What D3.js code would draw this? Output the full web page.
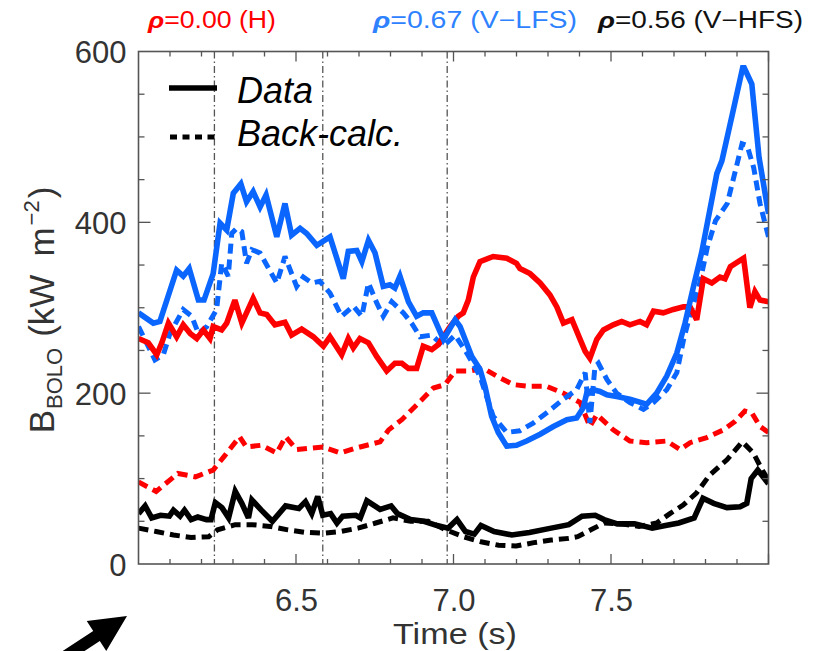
<!DOCTYPE html>
<html>
<head>
<meta charset="utf-8">
<script src="https://cdn.jsdelivr.net/npm/d3@7/dist/d3.min.js"></script>
<style>
  html, body { margin: 0; padding: 0; background: #fff; }
  svg { display: block; }
  text { font-family: "Liberation Sans", Arial, Helvetica, sans-serif; }
</style>
</head>
<body>
<svg id="chart" width="817" height="651"></svg>
<script>
// ---------------- DATA ----------------
const xTickValues = [6.5, 7.0, 7.5];
const xTickLabels = ["6.5", "7.0", "7.5"];
const yTickValues = [0, 200, 400, 600];
const yTickLabels = ["0", "200", "400", "600"];
const markerTimes = [6.241, 6.585, 6.980];

// rho = 0.67 (V-LFS) data
const lfsDataT = [6.00,6.047,6.068,6.121,6.142,6.161,6.19,6.208,6.237,6.259,6.28,6.301,6.325,6.343,6.364,6.386,6.405,6.439,6.465,6.486,6.513,6.534,6.566,6.608,6.65,6.666,6.693,6.709,6.73,6.751,6.777,6.798,6.814,6.83,6.857,6.883,6.904,6.931,6.968,7.005,7.021,7.058,7.084,7.10,7.121,7.142,7.169,7.20,7.232,7.275,7.317,7.36,7.391,7.412,7.423,7.444,7.465,7.487,7.518,7.56,7.613,7.645,7.677,7.709,7.735,7.762,7.788,7.836,7.852,7.888,7.918,7.923,7.947,7.97,8.0];
const lfsDataV = [294,282,284,344,337,346,309,309,340,399,391,434,445,424,436,418,432,383,422,385,393,387,373,383,334,366,367,354,379,364,325,327,323,337,307,290,294,294,263,286,278,243,228,208,173,154,138,139,144,152,161,169,171,183,200,204,202,198,196,193,187,200,220,247,282,325,365,457,472,531,581,581,562,476,410];

// rho = 0.67 (V-LFS) back-calculated
const lfsCalcT = [6.00,6.052,6.079,6.10,6.142,6.169,6.19,6.217,6.248,6.264,6.285,6.296,6.312,6.328,6.343,6.36,6.386,6.439,6.465,6.502,6.523,6.55,6.576,6.608,6.645,6.682,6.709,6.73,6.756,6.777,6.804,6.841,6.867,6.894,6.931,6.968,7.005,7.042,7.084,7.105,7.126,7.169,7.211,7.253,7.296,7.349,7.391,7.418,7.433,7.449,7.46,7.487,7.518,7.56,7.603,7.635,7.677,7.709,7.73,7.751,7.78,7.806,7.832,7.869,7.90,7.916,7.932,7.953,7.973,8.0];
const lfsCalcV = [278,239,245,270,298,290,270,278,298,352,337,387,393,389,352,368,364,329,360,325,336,329,331,317,290,302,290,329,306,290,307,294,282,266,268,255,268,247,220,196,173,154,156,165,177,193,204,224,165,231,235,216,200,189,181,189,204,224,262,292,326,371,402,422,468,492,490,464,422,383];

// rho = 0.00 (H) data
const hDataT = [6.00,6.031,6.058,6.074,6.095,6.121,6.142,6.164,6.185,6.206,6.227,6.237,6.264,6.28,6.306,6.328,6.364,6.386,6.407,6.433,6.465,6.486,6.518,6.555,6.587,6.608,6.645,6.666,6.682,6.703,6.73,6.756,6.788,6.814,6.836,6.857,6.883,6.904,6.931,6.952,6.989,7.015,7.031,7.047,7.063,7.084,7.126,7.169,7.20,7.211,7.243,7.275,7.306,7.328,7.349,7.376,7.402,7.418,7.433,7.455,7.476,7.507,7.534,7.56,7.592,7.613,7.635,7.666,7.698,7.73,7.751,7.772,7.793,7.82,7.846,7.862,7.879,7.921,7.941,7.957,7.973,8.0];
const hDataV = [264,259,245,259,282,266,280,270,264,274,264,278,274,282,309,282,311,294,292,280,283,268,275,266,255,266,245,264,253,264,259,243,226,235,235,229,229,255,251,257,278,290,294,309,336,354,360,358,352,346,340,329,315,301,282,286,263,249,241,263,274,280,284,280,284,280,296,294,298,301,301,286,334,329,336,334,348,358,300,319,309,307];

// rho = 0.00 (H) back-calculated
const hCalcT = [6.00,6.056,6.125,6.181,6.237,6.272,6.321,6.342,6.39,6.439,6.467,6.502,6.585,6.641,6.683,6.725,6.767,6.794,6.836,6.904,6.936,6.973,7.005,7.052,7.095,7.137,7.19,7.243,7.296,7.349,7.402,7.433,7.455,7.507,7.56,7.613,7.677,7.719,7.751,7.804,7.857,7.894,7.925,7.947,7.973,8.0];
const hCalcV = [96,85,106,102,110,126,149,137,139,130,149,134,137,130,135,139,143,157,169,194,206,210,226,226,229,220,210,208,208,200,189,161,175,157,144,142,144,134,142,148,157,167,179,177,161,154];

// rho = 0.56 (V-HFS) data
const hfsDataT = [6.00,6.021,6.042,6.07,6.098,6.111,6.132,6.146,6.167,6.188,6.216,6.23,6.244,6.265,6.286,6.307,6.328,6.349,6.36,6.39,6.425,6.467,6.509,6.53,6.55,6.569,6.585,6.61,6.63,6.648,6.69,6.704,6.725,6.767,6.802,6.822,6.864,6.906,6.948,6.983,7.011,7.038,7.066,7.087,7.129,7.185,7.241,7.31,7.366,7.408,7.45,7.478,7.52,7.575,7.631,7.673,7.715,7.764,7.792,7.826,7.868,7.91,7.931,7.945,7.966,8.0];
const hfsDataV = [59,68,54,57,56,63,56,63,52,55,52,52,72,66,54,85,71,54,75,63,50,68,65,73,59,79,57,59,48,56,57,54,74,64,68,59,52,50,45,42,52,38,35,45,38,34,37,42,46,56,57,52,47,47,42,45,48,54,77,71,66,67,71,100,110,94];

// rho = 0.56 (V-HFS) back-calculated
const hfsCalcT = [6.00,6.056,6.111,6.167,6.223,6.251,6.307,6.362,6.418,6.474,6.53,6.585,6.641,6.697,6.753,6.808,6.864,6.92,6.976,7.031,7.087,7.143,7.199,7.255,7.31,7.366,7.394,7.436,7.478,7.533,7.589,7.645,7.687,7.729,7.771,7.813,7.868,7.917,7.952,7.98,8.0];
const hfsCalcV = [42,38,34,31,32,40,46,46,44,40,37,36,38,42,48,54,50,50,40,32,26,22,21,25,28,30,32,40,48,47,44,48,59,69,83,104,122,143,130,110,98];

// ---------------- STYLE ----------------
const RED = "#ff0000", BLUE = "#0a66ff", BLACK = "#000000";
const plot = { left: 138.5, right: 768.5, top: 51.5, bottom: 564 };

const svg = d3.select("#chart");
const x = d3.scaleLinear().domain([6.0, 8.0]).range([plot.left, plot.right]);
const y = d3.scaleLinear().domain([0, 600]).range([plot.bottom, plot.top]);

const zip = (ts, vs) => ts.map((t, i) => [t, vs[i]]);
const series = [
  { data: zip(hCalcT, hCalcV), color: RED, dash: "10,6", width: 5 },
  { data: zip(hfsCalcT, hfsCalcV), color: BLACK, dash: "10,6", width: 5 },
  { data: zip(lfsCalcT, lfsCalcV), color: BLUE, dash: "10,6", width: 5 },
  { data: zip(hDataT, hDataV), color: RED, dash: null, width: 5.6 },
  { data: zip(hfsDataT, hfsDataV), color: BLACK, dash: null, width: 5.6 },
  { data: zip(lfsDataT, lfsDataV), color: BLUE, dash: null, width: 5.6 },
];

svg.append("defs").append("clipPath").attr("id", "clip")
  .append("rect").attr("x", plot.left).attr("y", plot.top)
  .attr("width", plot.right - plot.left).attr("height", plot.bottom - plot.top);

// vertical dash-dot markers
svg.append("g").selectAll("line").data(markerTimes).join("line")
  .attr("x1", d => x(d)).attr("x2", d => x(d))
  .attr("y1", plot.top).attr("y2", plot.bottom)
  .attr("stroke", "#555").attr("stroke-width", 1.3)
  .attr("stroke-dasharray", "7,3,1.5,3");

// lines
const line = d3.line().x(d => x(d[0])).y(d => y(d[1]));
svg.append("g").attr("clip-path", "url(#clip)")
  .selectAll("path").data(series).join("path")
  .attr("d", d => line(d.data))
  .attr("fill", "none")
  .attr("stroke", d => d.color)
  .attr("stroke-width", d => d.width)
  .attr("stroke-linejoin", "miter")
  .attr("stroke-miterlimit", 3)
  .attr("stroke-dasharray", d => d.dash);

// frame
const AX = "#555";
svg.append("rect").attr("x", plot.left).attr("y", plot.top)
  .attr("width", plot.right - plot.left).attr("height", plot.bottom - plot.top)
  .attr("fill", "none").attr("stroke", AX).attr("stroke-width", 1.6);

// ticks (inward), minor + major
const xMinor = d3.range(6.1, 8.0, 0.1).map(v => +v.toFixed(1));
const yMinor = d3.range(50, 600, 50);
const tg = svg.append("g").attr("stroke", AX).attr("stroke-width", 1.3);
xMinor.forEach(v => {
  const len = (Math.abs(v * 2 - Math.round(v * 2)) < 1e-6) ? 10 : 5;
  tg.append("line").attr("x1", x(v)).attr("x2", x(v)).attr("y1", plot.bottom).attr("y2", plot.bottom - len);
  tg.append("line").attr("x1", x(v)).attr("x2", x(v)).attr("y1", plot.top).attr("y2", plot.top + len);
});
yMinor.forEach(v => {
  const len = (v % 200 === 0) ? 12 : 6;
  tg.append("line").attr("x1", plot.left).attr("x2", plot.left + len).attr("y1", y(v)).attr("y2", y(v));
  tg.append("line").attr("x1", plot.right).attr("x2", plot.right - len).attr("y1", y(v)).attr("y2", y(v));
});

// axis labels via d3 axes
const xAxis = d3.axisBottom(x).tickValues(xTickValues)
  .tickFormat((d, i) => xTickLabels[i]).tickSize(0).tickPadding(0);
const gx = svg.append("g").attr("transform", `translate(0,${plot.bottom})`).call(xAxis);
gx.select(".domain").remove();
gx.selectAll("text").attr("font-size", 31).attr("fill", "#333")
  .attr("dy", null).attr("y", 47)
  .style("font-family", "'Liberation Sans', Arial, sans-serif");

const yAxis = d3.axisLeft(y).tickValues(yTickValues)
  .tickFormat((d, i) => yTickLabels[i]).tickSize(0).tickPadding(12);
const gy = svg.append("g").attr("transform", `translate(${plot.left},0)`).call(yAxis);
gy.select(".domain").remove();
gy.selectAll("text").attr("font-size", 31).attr("fill", "#333")
  .attr("dy", "0.36em")
  .style("font-family", "'Liberation Sans', Arial, sans-serif");

// x title
svg.append("text").attr("x", 455).attr("y", 644).attr("text-anchor", "middle")
  .attr("font-size", 29).attr("fill", "#333")
  .attr("textLength", 124).attr("lengthAdjust", "spacingAndGlyphs").text("Time (s)");

// y title
const yt = svg.append("text").attr("transform", "translate(54,310) rotate(-90)")
  .attr("text-anchor", "middle").attr("font-size", 35).attr("fill", "#333");
yt.append("tspan").text("B");
yt.append("tspan").attr("font-size", 22).attr("dy", 8).attr("dx", 1).text("BOLO");
yt.append("tspan").attr("dy", -8).attr("dx", 11).text("(kW");
yt.append("tspan").attr("dx", 18).text("m");
yt.append("tspan").attr("font-size", 22).attr("dy", -15).attr("dx", 2).text("\u22122");
yt.append("tspan").attr("dy", 15).attr("dx", 2).text(")");

// top labels
const topLabels = [
  { rho: "\u03c1", rest: "=0.00 (H)", color: RED, x: 148, w: 128 },
  { rho: "\u03c1", rest: "=0.67 (V\u2212LFS)", color: "#2f82ff", x: 373, w: 204 },
  { rho: "\u03c1", rest: "=0.56 (V\u2212HFS)", color: "#111", x: 598, w: 205 },
];
topLabels.forEach(l => {
  const t = svg.append("text").attr("x", l.x).attr("y", 28).attr("font-size", 23)
    .attr("fill", l.color);
  t.append("tspan").attr("font-weight", "bold").attr("font-style", "italic").text(l.rho);
  t.append("tspan").text(l.rest);
  t.attr("textLength", l.w).attr("lengthAdjust", "spacingAndGlyphs");
});

// legend
svg.append("line").attr("x1", 169).attr("x2", 217).attr("y1", 88).attr("y2", 88)
  .attr("stroke", "#000").attr("stroke-width", 5.5);
svg.append("line").attr("x1", 170).attr("x2", 216).attr("y1", 137).attr("y2", 137)
  .attr("stroke", "#000").attr("stroke-width", 5).attr("stroke-dasharray", "7,5.5");
svg.append("text").attr("x", 237).attr("y", 103).attr("font-size", 36)
  .attr("font-style", "italic").attr("fill", "#000").text("Data");
svg.append("text").attr("x", 237).attr("y", 146).attr("font-size", 36)
  .attr("font-style", "italic").attr("fill", "#000").text("Back-calc.");

// arrow (decoration)
(function () {
  const tip = [127, 616], mid = [96.5, 636];
  const u = [0.836, -0.548], n = [0.548, 0.836];
  const tail = [mid[0] - u[0] * 70, mid[1] - u[1] * 70];
  const P = (p, k, v) => [p[0] + v[0] * k, p[1] + v[1] * k];
  const pts = [tip, P(mid, 17.8, n), P(mid, 6, n), P(tail, 6, n), P(tail, -6, n), P(mid, -6, n), P(mid, -17.8, n)];
  svg.append("path").attr("d", d3.line()(pts) + "Z").attr("fill", "#000");
})();
</script>
</body>
</html>
